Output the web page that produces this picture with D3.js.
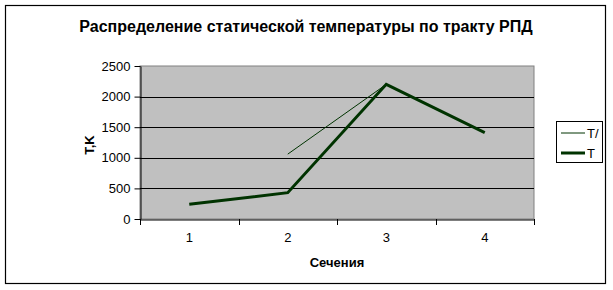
<!DOCTYPE html>
<html><head><meta charset="utf-8">
<script src="https://cdn.jsdelivr.net/npm/d3@7"></script>
<style>body{margin:0;background:#fff}svg{display:block}text{font-family:"Liberation Sans",Arial,sans-serif}</style>
</head><body><svg id="c" width="613" height="290"></svg>
<script>
const categories = ["1","2","3","4"];
const seriesNames = ["T/","T"];
const valuesTprime = [null, 1060, 2200, null];
const valuesT = [240, 430, 2200, 1410];
const yTicks = [0,500,1000,1500,2000,2500];
const title = "Распределение статической температуры по тракту РПД";
const xTitle = "Сечения";
const yTitle = "T,K";

const svg = d3.select("#c");
const L = 140, R = 534, T = 66, B = 219;
const x = d3.scaleBand().domain(categories).range([L, R]);
const y = d3.scaleLinear().domain([0, 2500]).range([B, T]);
const lineColor = "#003300";

svg.append("rect").attr("x",5.5).attr("y",5.5).attr("width",600).attr("height",278)
  .attr("fill","#fff").attr("stroke","#000").attr("stroke-width",1.2);

svg.append("text").attr("x",306).attr("y",32).attr("text-anchor","middle")
  .attr("font-size",16).attr("font-weight","bold").text(title);

svg.append("rect").attr("x",L).attr("y",T).attr("width",R-L).attr("height",B-T)
  .attr("fill","#c0c0c0").attr("stroke","#808080");

svg.append("g").selectAll("line").data(yTicks.filter(d=>d>0 && d<2500)).join("line")
  .attr("x1",L).attr("x2",R).attr("y1",d=>Math.round(y(d))+0.5).attr("y2",d=>Math.round(y(d))+0.5)
  .attr("stroke","#000");

const yAxis = svg.append("g").attr("transform",`translate(${L+0.5},0)`)
  .call(d3.axisLeft(y).tickValues(yTicks).tickFormat(d3.format("d")).tickSize(6).tickPadding(4).tickSizeOuter(0));
const xAxis = svg.append("g").attr("transform",`translate(0,${B+0.5})`)
  .call(d3.axisBottom(x).tickSize(0).tickPadding(13).tickSizeOuter(0));
svg.append("g").selectAll("line").data(d3.range(categories.length+1)).join("line")
  .attr("x1",i=>Math.round(L + i*x.step())+0.5).attr("x2",i=>Math.round(L + i*x.step())+0.5)
  .attr("y1",B).attr("y2",B+6).attr("stroke","#000");
[yAxis,xAxis].forEach(g=>{
  g.selectAll("path,line").attr("stroke","#000");
  g.selectAll("text").attr("font-size",13).attr("fill","#000").attr("font-family","Liberation Sans, Arial, sans-serif");
});

const line = d3.line().defined(d=>d.v!=null).x(d=>x(d.c)+x.bandwidth()/2).y(d=>y(d.v));
svg.append("path").datum(categories.map((c,i)=>({c,v:valuesTprime[i]})))
  .attr("d",line).attr("fill","none").attr("stroke",lineColor).attr("stroke-width",1);
svg.append("path").datum(categories.map((c,i)=>({c,v:valuesT[i]})))
  .attr("d",line).attr("fill","none").attr("stroke",lineColor).attr("stroke-width",3)
  .attr("stroke-linejoin","miter");

svg.append("text").attr("transform","translate(94,145) rotate(-90)").attr("text-anchor","middle")
  .attr("font-size",13).attr("font-weight","bold").text(yTitle);
svg.append("text").attr("x",337).attr("y",267).attr("text-anchor","middle")
  .attr("font-size",13).attr("font-weight","bold").text(xTitle);

const lg = svg.append("g");
lg.append("rect").attr("x",556.5).attr("y",121.5).attr("width",46).attr("height",41)
  .attr("fill","#fff").attr("stroke","#000");
const widths=[1,3];
seriesNames.forEach((n,i)=>{
  const yy = 133 + i*20;
  lg.append("line").attr("x1",561).attr("x2",585).attr("y1",yy).attr("y2",yy)
    .attr("stroke",lineColor).attr("stroke-width",widths[i]);
  lg.append("text").attr("x",587).attr("y",yy+4.5).attr("font-size",13).text(n);
});
</script></body></html>
